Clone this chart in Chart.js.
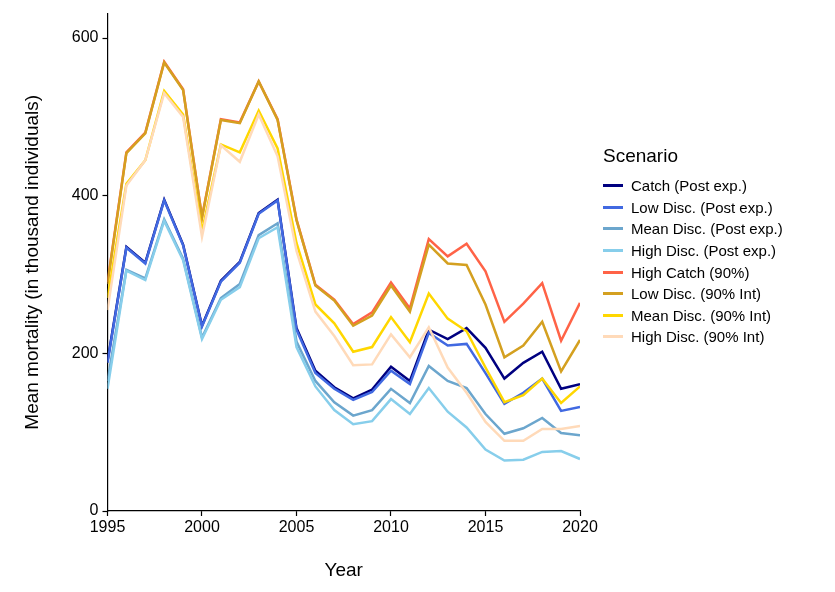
<!DOCTYPE html>
<html>
<head>
<meta charset="utf-8">
<script src="https://cdn.jsdelivr.net/npm/chart.js@4/dist/chart.umd.min.js"></script>
<style>
  body { margin: 0; background: #fff; font-family: "Liberation Sans", Arial, sans-serif; }
  #wrap { position: relative; width: 835px; height: 592px; }
  #legend { position: absolute; left: 603px; top: 145px; color: #000; }
  #legend .title { font-size: 19px; margin-bottom: 8px; }
  #legend .item { font-size: 15px; height: 21.6px; display: flex; align-items: center; }
  #legend .swatch { width: 20px; height: 3px; margin-right: 8px; }
</style>
</head>
<body>
<div id="wrap">
  <canvas id="chart" width="835" height="592"></canvas>
  <div id="legend"></div>
</div>
<script>
// ===================== DATA =====================
const years = [1995,1996,1997,1998,1999,2000,2001,2002,2003,2004,2005,2006,2007,2008,2009,2010,2011,2012,2013,2014,2015,2016,2017,2018,2019,2020];

const catchPost    = [190,335,315,395,338,235,292,316,378,395,232,178,157,143,154,183,165,230,218,232,207,168,188,202,155,161];
const lowDiscPost  = [188,334,314,394,337,234,291,315,377,394,230,175,155,141,151,178,161,226,210,212,175,136,150,168,127,132];
const meanDiscPost = [165,306,295,370,320,220,270,288,350,365,215,165,138,121,128,155,137,184,165,156,123,98,105,118,99,96];
const highDiscPost = [155,305,293,368,318,218,268,284,346,360,208,158,128,110,114,142,123,156,126,106,78,64,65,75,76,66];
const highCatch90  = [290,455,480,570,535,373,497,493,545,497,370,287,268,237,252,290,257,345,323,339,304,240,263,289,216,264];
const lowDisc90    = [288,454,479,569,534,372,496,492,545,496,369,286,267,235,248,286,253,338,314,312,262,195,210,240,177,217];
const meanDisc90   = [270,415,445,533,503,355,465,455,508,460,340,262,238,202,208,246,214,276,244,228,182,138,147,168,137,158];
const highDisc90   = [255,413,445,530,500,348,464,443,503,450,330,253,222,185,186,224,195,233,182,150,113,89,89,104,104,108];

const seriesNames = ['Catch (Post exp.)','Low Disc. (Post exp.)','Mean Disc. (Post exp.)','High Disc. (Post exp.)',
                     'High Catch (90%)','Low Disc. (90% Int)','Mean Disc. (90% Int)','High Disc. (90% Int)'];
const seriesValues = [catchPost, lowDiscPost, meanDiscPost, highDiscPost, highCatch90, lowDisc90, meanDisc90, highDisc90];
const seriesColors = ['#000080','#4169E1','#6CA6CD','#87CEEB','#FF6347','#D4A020','#FFD700','#FFDAB9'];
const xTicks = [1995, 2000, 2005, 2010, 2015, 2020];
const yTicks = [0, 200, 400, 600];

// ===================== BUILD CHART =====================
const datasets = seriesValues.map((vals, i) => ({
  label: seriesNames[i],
  data: vals.map((v, j) => ({ x: years[j], y: v })),
  borderColor: seriesColors[i],
  borderWidth: 2.5,
  pointRadius: 0,
  tension: 0,
  fill: false,
  order: seriesValues.length - i
}));

const font = { family: '"Liberation Sans", Arial, sans-serif', size: 16 };
const axisGrid = { display: true, drawOnChartArea: false, drawTicks: true, tickLength: 5, tickColor: '#000', tickWidth: 1.2 };

new Chart(document.getElementById('chart'), {
  type: 'line',
  data: { datasets: datasets },
  options: {
    responsive: false,
    animation: false,
    layout: { padding: { left: 17, right: 255, top: 10, bottom: 6 } },
    plugins: { legend: { display: false }, tooltip: { enabled: false } },
    scales: {
      x: {
        type: 'linear', min: 1995, max: 2020,
        afterBuildTicks: axis => { axis.ticks = xTicks.map(v => ({ value: v })); },
        grid: axisGrid,
        border: { color: '#000', width: 1.2 },
        ticks: { color: '#000', font: font, padding: 2, callback: v => String(v) },
        title: { display: true, text: 'Year', color: '#000', font: { family: font.family, size: 19 }, padding: { top: 20 } }
      },
      y: {
        min: 0, max: 631,
        afterBuildTicks: axis => { axis.ticks = yTicks.map(v => ({ value: v })); },
        grid: axisGrid,
        border: { color: '#000', width: 1.2 },
        ticks: { color: '#000', font: font, padding: 4 },
        title: { display: true, text: 'Mean mortality (in thousand individuals)', color: '#000', font: { family: font.family, size: 19 }, padding: { bottom: 24 } }
      }
    }
  }
});

// ===================== LEGEND =====================
const legend = document.getElementById('legend');
legend.innerHTML = '<div class="title">Scenario</div>' + seriesNames.map((n, i) =>
  `<div class="item"><span class="swatch" style="background:${seriesColors[i]}"></span>${n}</div>`).join('');
</script>
</body>
</html>
